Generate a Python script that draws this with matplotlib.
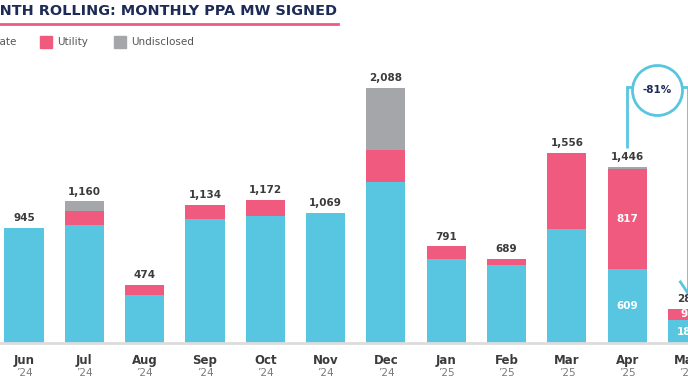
import matplotlib.pyplot as plt
from matplotlib.patches import Rectangle
from matplotlib.lines import Line2D
import numpy as np

# data
months = ["Jun", "Jul", "Aug", "Sep", "Oct", "Nov", "Dec", "Jan", "Feb", "Mar", "Apr", "May"]
years = ["'24", "'24", "'24", "'24", "'24", "'24", "'24", "'25", "'25", "'25", "'25", "'25"]
corporate = [945, 965, 395, 1017, 1044, 1069, 1320, 690, 636, 936, 609, 187]
utility = [0, 115, 79, 117, 128, 0, 262, 101, 53, 620, 817, 94]
undisclosed = [0, 80, 0, 0, 0, 0, 506, 0, 0, 0, 20, 0]
inside_labels = [10, 11]  # bars with segment labels
change_label = "-81%"

CYAN = "#58c6e1"
PINK = "#ef5a7e"
GRAY = "#a5a6a9"
NAVY = "#1d2b57"
DARK = "#3b3b3b"

W, H = 688, 387
fig = plt.figure(figsize=(W / 100, H / 100), dpi=100)
fig.patch.set_facecolor("white")

def fx(px):
    return px / W

def fy(py):
    return 1 - py / H

base_py = 343
scale = 0.122  # px per MW
spacing = 60.33
ax = fig.add_axes([0, fy(base_py), 1, base_py / H])
x0 = -24 / spacing
ax.set_xlim(x0, x0 + W / spacing)
ax.set_ylim(0, base_py / scale)
ax.axis("off")

x = np.arange(len(months))
corp = np.array(corporate)
util = np.array(utility)
undis = np.array(undisclosed)
totals = corp + util + undis
bw = 0.647

ax.bar(x, corp, width=bw, color=CYAN, zorder=2)
ax.bar(x, util, width=bw, bottom=corp, color=PINK, zorder=2)
ax.bar(x, undis, width=bw, bottom=corp + util, color=GRAY, zorder=2)

# baseline
ax.axhline(0, color="#dcdcdc", lw=2, zorder=3, clip_on=False)

for i in range(len(months)):
    ax.annotate(f"{totals[i]:,}", (x[i], totals[i]), xytext=(0, 3.5),
                textcoords="offset points", ha="center", va="bottom",
                fontsize=7.5, fontweight="bold", color=DARK)
    ax.text(x[i], -0.05, months[i], transform=ax.get_xaxis_transform(),
            ha="center", va="center", fontsize=8.5, fontweight="bold", color=DARK)
    ax.text(x[i], -0.088, years[i].replace("'", "\u2019"), transform=ax.get_xaxis_transform(),
            ha="center", va="center", fontsize=7.5, color="#7a7a7a")

for i in inside_labels:
    ax.text(x[i], corp[i] / 2, f"{corp[i]:,}", ha="center", va="center",
            fontsize=7.5, fontweight="bold", color="white", zorder=4)
    ax.text(x[i], corp[i] + util[i] / 2, f"{util[i]:,}", ha="center", va="center",
            fontsize=7.5, fontweight="bold", color="white", zorder=4)

# bracket with change circle (Apr -> May)
top_y = (base_py - 87) / scale
a, b = 10, 11
ax.plot([a, a], [totals[a] + 150, top_y], color=CYAN, lw=2, solid_capstyle="butt", clip_on=False)
ax.plot([b, b], [totals[b] + 130, top_y], color=CYAN, lw=2, solid_capstyle="butt", clip_on=False)
ax.plot([a, b], [top_y, top_y], color=CYAN, lw=2, zorder=4, clip_on=False)
ax.plot([(a + b) / 2], [top_y - 3 / scale], marker="o", ms=36, mfc="white", mec=CYAN,
        mew=2, zorder=5, clip_on=False)
ax.text((a + b) / 2, top_y - 3 / scale, change_label, ha="center", va="center",
        fontsize=7.5, fontweight="bold", color=NAVY, zorder=6)
ax.plot([b - 0.12, b, b + 0.12], [totals[b] + 220, totals[b] + 130, totals[b] + 220],
        color=CYAN, lw=2, clip_on=False)

# title (cropped on the left like the reference)
fig.text(fx(337), fy(11), "12-MONTH ROLLING: MONTHLY PPA MW SIGNED", ha="right", va="center",
         fontsize=10.4, fontweight="bold", color=NAVY)
fig.add_artist(Line2D([0, fx(338)], [fy(23.5), fy(23.5)], color=PINK, lw=2))

# legend
legend_items = [("Corporate", CYAN, 17), ("Utility", PINK, 57), ("Undisclosed", GRAY, 131)]
for name, col, tx in legend_items:
    if name == "Corporate":
        fig.text(fx(tx), fy(42), name, ha="right", va="center", fontsize=7.5, color="#555555")
        continue
    fig.add_artist(Rectangle((fx(tx - 17), fy(48)), fx(12), 12 / H, color=col))
    fig.text(fx(tx), fy(42), name, ha="left", va="center", fontsize=7.5, color="#555555")

fig.savefig("out.png", dpi=100)
